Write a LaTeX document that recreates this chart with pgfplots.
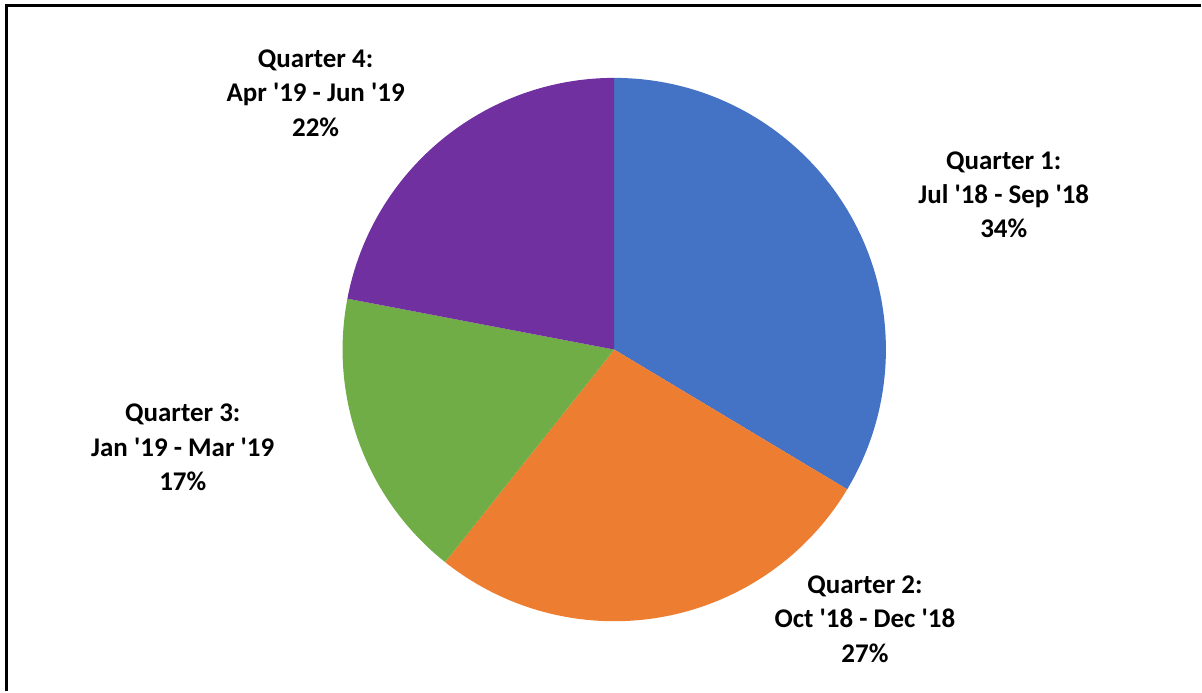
\documentclass[border=0pt]{standalone}
\usepackage{pgfplots}
\pgfplotsset{compat=1.18}
\usepackage{fontspec}
\setmainfont{Carlito}

\definecolor{qblue}{HTML}{4472C4}
\definecolor{qorange}{HTML}{ED7D31}
\definecolor{qgreen}{HTML}{70AD47}
\definecolor{qpurple}{HTML}{7030A0}

% share of each quarter, in per cent, with its colour
\newcommand\slices{33.6/qblue, 27.1/qorange, 17.3/qgreen, 22.0/qpurple}

\tikzset{lbl/.style={font=\fontsize{27}{34.5}\selectfont\bfseries, align=center}}

\begin{document}
\begin{tikzpicture}
\begin{axis}[
    scale only axis,
    width=1202pt, height=692pt,
    xmin=0, xmax=1202, ymin=0, ymax=692,
    hide axis,
    clip=false,
    ]
\path (axis cs:0,0) rectangle (axis cs:1202,692);
% frame (only left and top edges show)
\draw[line width=3pt] (axis cs:7,0) -- (axis cs:7,686) -- (axis cs:1202,686);

% pie, clockwise from twelve o'clock
\xdef\start{90}
\foreach \v/\c in \slices {
    \pgfmathsetmacro\stop{\start-3.6*\v}
    \edef\temp{\noexpand\fill[\c] (axis cs:615,342) -- ++(\start:272pt)
        arc[start angle=\start, end angle=\stop, radius=272pt] -- cycle;}
    \temp
    \xdef\start{\stop}
}

\node[lbl] at (axis cs:1005,497) {Quarter 1:\\Jul \textquotesingle18 - Sep \textquotesingle18\\34\%};
\node[lbl] at (axis cs:866,72) {Quarter 2:\\Oct \textquotesingle18 - Dec \textquotesingle18\\27\%};
\node[lbl] at (axis cs:183,244) {Quarter 3:\\Jan \textquotesingle19 - Mar \textquotesingle19\\17\%};
\node[lbl] at (axis cs:316,599) {Quarter 4:\\Apr \textquotesingle19 - Jun \textquotesingle19\\22\%};
\end{axis}
\end{tikzpicture}
\end{document}
